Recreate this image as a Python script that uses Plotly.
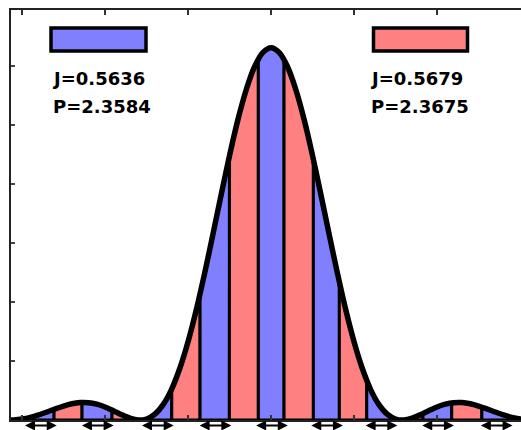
import numpy as np
import plotly.graph_objects as go

# Intensity profile (main lobe with side lobes), y in tick units
CURVE_X = [-3.15, -3.1, -3.0, -2.9, -2.8, -2.7, -2.6, -2.5, -2.4, -2.3, -2.2, -2.1,
           -2.0, -1.9, -1.8, -1.7, -1.6, -1.5, -1.4, -1.3, -1.2, -1.1, -1.0, -0.9,
           -0.8, -0.7, -0.6, -0.5, -0.4, -0.3, -0.2, -0.1, 0.0, 0.1, 0.2, 0.3, 0.4,
           0.5, 0.6, 0.7, 0.8, 0.9, 1.0, 1.1, 1.2, 1.3, 1.4, 1.5, 1.6, 1.7, 1.8, 1.9,
           2.0, 2.1, 2.2, 2.3, 2.4, 2.5, 2.6, 2.7, 2.8, 2.9, 3.0, 3.05]
CURVE_Y = [0.0, 0.002, 0.017, 0.045, 0.086, 0.136, 0.189, 0.237, 0.275, 0.296, 0.294, 0.268,
           0.221, 0.158, 0.090, 0.032, 0.001, 0.017, 0.098, 0.261, 0.516, 0.873, 1.327, 1.871,
           2.487, 3.148, 3.825, 4.482, 5.084, 5.593, 5.983, 6.227, 6.310, 6.227, 5.983, 5.593, 5.084,
           4.482, 3.825, 3.148, 2.487, 1.871, 1.327, 0.873, 0.516, 0.261, 0.098, 0.017, 0.001, 0.032, 0.090, 0.158,
           0.221, 0.268, 0.294, 0.296, 0.275, 0.237, 0.189, 0.136, 0.086, 0.045, 0.017, 0.008]

# Boundaries of the alternating strips under the curve
STRIP_EDGES = [-3.15, -2.95, -2.614, -2.277, -1.916, -1.55, -1.196, -0.855, -0.502, -0.153,
               0.157, 0.51, 0.823, 1.153, 1.49, 1.83, 2.177, 2.54, 2.88, 3.05]

# Two series shown in the key boxes
SERIES_J = ["0.5636", "0.5679"]
SERIES_P = ["2.3584", "2.3675"]

X_TICKS = [-3, -2, -1, 0, 1, 2, 3]

BLUE = "#8080FF"
RED = "#FF8080"

W, H = 521, 430
ML, MR, MT, MB = 11, 0, 10, 10
PW, PH = W - ML - MR, H - MT - MB
X_RANGE = [-3.133, -3.133 + PW / 83.0]
Y_RANGE = [0, PH / 59.0]


def px_x(p):
    return (p - ML) / PW


def px_y(p):
    return (H - MB - p) / PH


cx = np.array(CURVE_X)
cy = np.array(CURVE_Y)

fig = go.Figure()

blue_centers = []
for i in range(len(STRIP_EDGES) - 1):
    a, b = STRIP_EDGES[i], STRIP_EDGES[i + 1]
    inner = (cx > a) & (cx < b)
    xs = np.concatenate([[a], cx[inner], [b]])
    ys = np.interp(xs, cx, cy)
    px = np.concatenate([[a], xs, [b, a]])
    py = np.concatenate([[0], ys, [0, 0]])
    color = BLUE if i % 2 == 1 else RED
    if i % 2 == 1:
        blue_centers.append((a + b) / 2)
    fig.add_trace(go.Scatter(x=px, y=py, mode="lines", fill="toself",
                             fillcolor=color, line=dict(color="black", width=3),
                             hoverinfo="skip"))

fig.add_trace(go.Scatter(x=CURVE_X, y=CURVE_Y, mode="lines",
                         line=dict(color="black", width=5.5, shape="spline", smoothing=0.8),
                         hoverinfo="skip"))

# double-headed arrows beneath each blue strip
arrow_y = px_y(425.5)
for c in blue_centers:
    fig.add_annotation(x=c + 0.2, y=arrow_y, ax=c - 0.2, ay=0,
                       xref="x", yref="paper", axref="x", ayref="pixel",
                       text="", showarrow=True, arrowside="end+start",
                       arrowhead=2, arrowsize=1, arrowwidth=2, arrowcolor="black")

# key boxes with their values
boxes = [(51, 146, BLUE, 52), (373.5, 467.5, RED, 370)]
for (x0, x1, col, tx), j, p in zip(boxes, SERIES_J, SERIES_P):
    fig.add_shape(type="rect", xref="paper", yref="paper",
                  x0=px_x(x0), x1=px_x(x1), y0=px_y(51), y1=px_y(28),
                  fillcolor=col, line=dict(color="black", width=3.5))
    for label, yc, dx in ((f"J={j}", 78, 0), (f"P={p}", 106, 1)):
        fig.add_annotation(x=px_x(tx - 2 + dx), y=px_y(yc), xref="paper", yref="paper",
                           text=label, showarrow=False, xanchor="left", yanchor="middle",
                           font=dict(family="DejaVu Sans", size=18, color="black",
                                     weight="bold"))

fig.update_layout(
    width=W, height=H,
    margin=dict(l=ML, r=MR, t=MT, b=MB, pad=0),
    paper_bgcolor="white", plot_bgcolor="white",
    showlegend=False,
    xaxis=dict(range=X_RANGE, tickvals=X_TICKS, ticks="inside", ticklen=5,
               tickwidth=1.5, tickcolor="#333", showticklabels=False,
               showline=True, linewidth=2, linecolor="#222", mirror="ticks",
               showgrid=False, zeroline=False),
    yaxis=dict(range=Y_RANGE, dtick=1, tick0=0, ticks="inside", ticklen=4,
               tickwidth=1.5, tickcolor="#444", showticklabels=False,
               showline=True, linewidth=2, linecolor="#222", mirror=False,
               showgrid=False, zeroline=False),
)

fig.write_html("out.html")
